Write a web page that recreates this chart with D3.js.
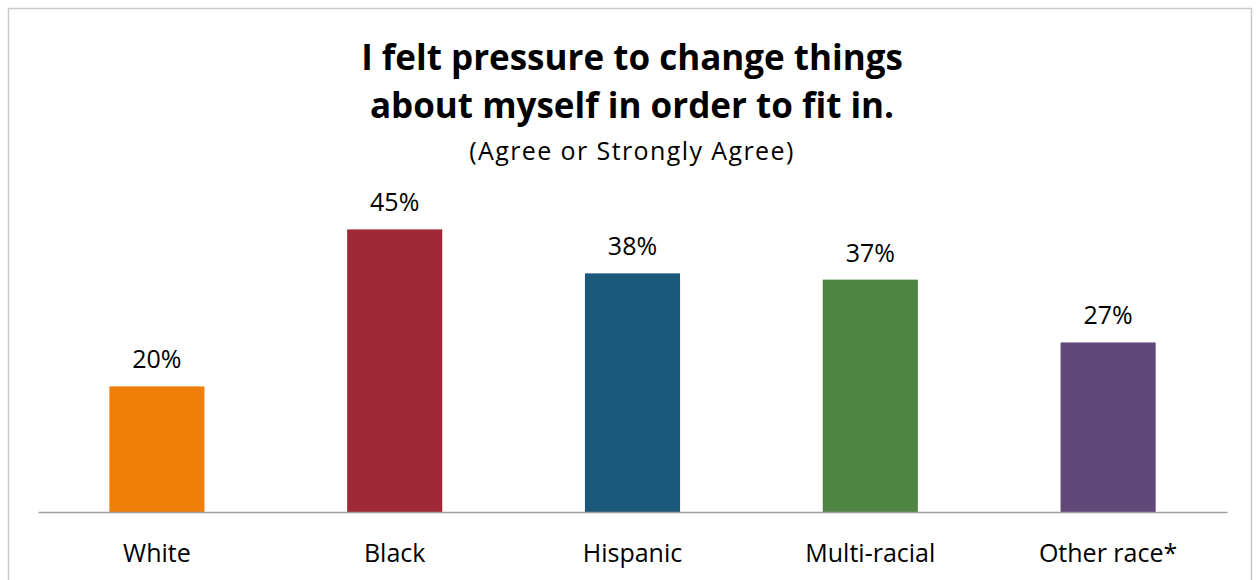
<!DOCTYPE html>
<html>
<head>
<meta charset="utf-8">
<script src="https://cdn.jsdelivr.net/npm/d3@7"></script>
<style>
  html, body { margin: 0; padding: 0; background: #fff; }
  svg { display: block; }
</style>
</head>
<body>
<script>
const categories = ["White", "Black", "Hispanic", "Multi-racial", "Other race*"];
const values = [20, 45, 38, 37, 27];
const colors = ["#F07F09", "#9F2936", "#1B587C", "#4E8542", "#604878"];
const titleLines = ["I felt pressure to change things", "about myself in order to fit in."];
const subtitle = "(Agree or Strongly Agree)";

const W = 1257, H = 580;
const font = "'Open Sans', 'Segoe UI', sans-serif";

const svg = d3.select("body").append("svg").attr("width", W).attr("height", H);

svg.append("rect")
  .attr("x", 8.5).attr("y", 8.5).attr("width", 1243).attr("height", 620)
  .attr("fill", "#fff").attr("stroke", "#c9c9c9").attr("stroke-width", 1.5);

const x = d3.scaleBand().domain(categories).range([38, 1227]).paddingInner(0.6).paddingOuter(0.3);
const baseY = 512;
const y = d3.scaleLinear().domain([0, 50]).range([baseY, baseY - 314]);

// title
const tg = svg.append("g").attr("font-family", font).attr("text-anchor", "middle").attr("fill", "#000");
tg.selectAll("text.t").data(titleLines).join("text")
  .attr("class", "t")
  .attr("x", 632).attr("y", (d, i) => 69.5 + i * 48)
  .attr("font-size", 35).attr("font-weight", "bold")
  .text(d => d);
tg.append("text").attr("x", 632).attr("y", 160)
  .attr("font-size", 25).attr("letter-spacing", 1.4).text(subtitle);

// bars
svg.append("g").selectAll("rect").data(values).join("rect")
  .attr("x", (d, i) => x(categories[i]))
  .attr("y", d => y(d))
  .attr("width", x.bandwidth())
  .attr("height", d => y(0) - y(d))
  .attr("fill", (d, i) => colors[i]);

// value labels
svg.append("g").attr("font-family", font).attr("font-size", 25).attr("text-anchor", "middle").attr("fill", "#000")
  .selectAll("text").data(values).join("text")
  .attr("x", (d, i) => x(categories[i]) + x.bandwidth() / 2)
  .attr("y", d => y(d) - 18)
  .text(d => d + "%");

// axis
const axis = svg.append("g").attr("transform", `translate(0,${baseY})`)
  .call(d3.axisBottom(x).tickSize(0).tickPadding(50));
axis.select(".domain").attr("stroke", "#a0a0a0").attr("stroke-width", 1.5);
axis.selectAll(".tick text").attr("font-family", font).attr("font-size", 25).attr("fill", "#000")
  .attr("dy", "0");
</script>
</body>
</html>
